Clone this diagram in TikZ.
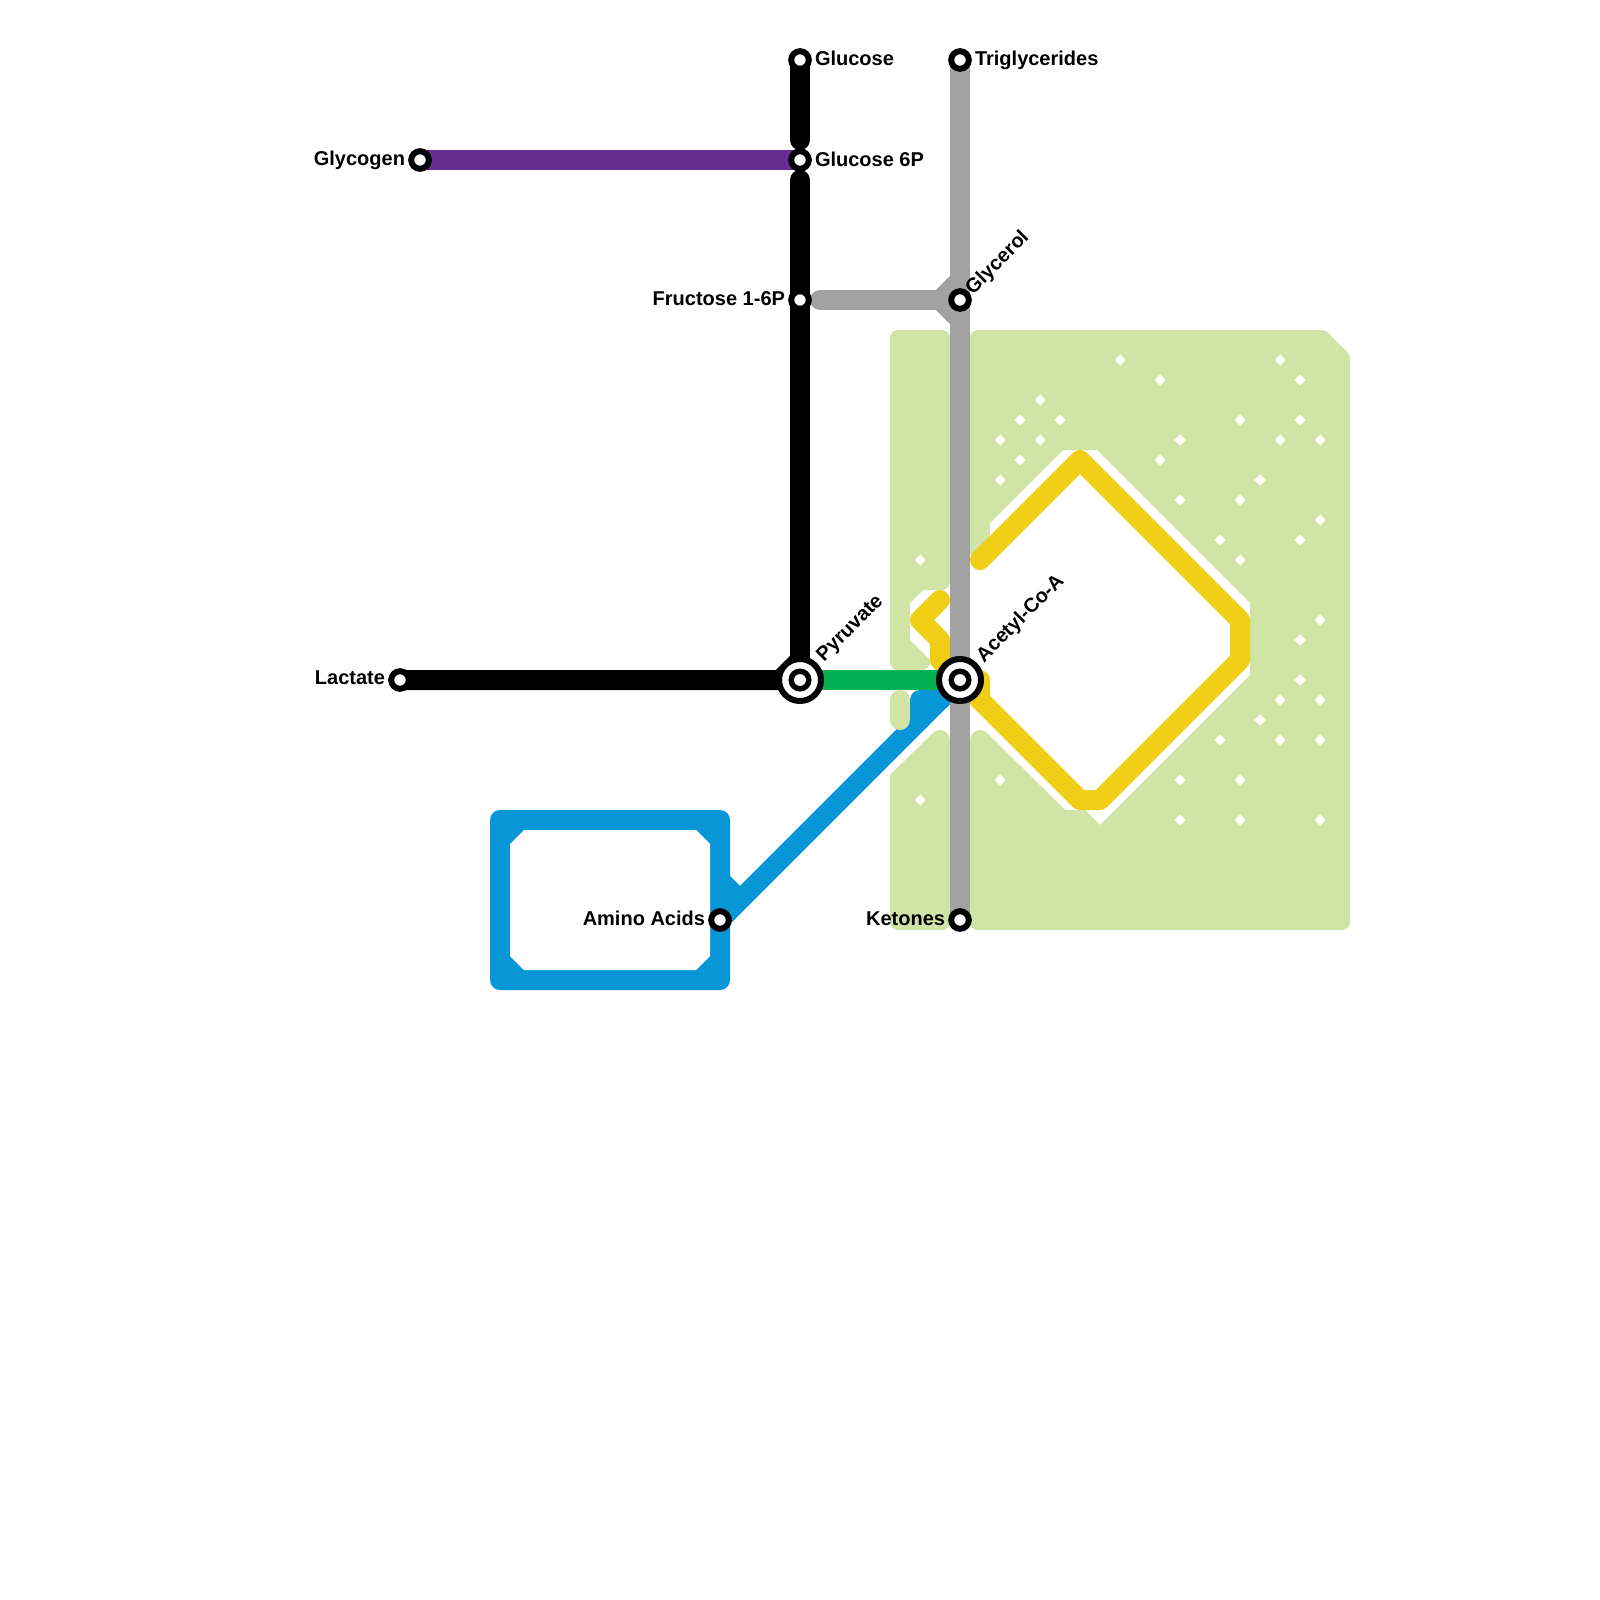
\documentclass[tikz,border=0pt]{standalone}
\usepackage{fontspec}
\setmainfont{Liberation Sans}
\usetikzlibrary{backgrounds}
\definecolor{panelgreen}{HTML}{CFE4A5}
\definecolor{ltblack}{HTML}{000000}
\definecolor{ltpurple}{HTML}{662C90}
\definecolor{ltgreen}{HTML}{00B251}
\definecolor{ltgrey}{HTML}{A2A2A2}
\definecolor{ltblue}{HTML}{0896D7}
\definecolor{ltyellow}{HTML}{F0CE15}
\tikzset{
  station/.style={circle,draw=black,fill=white,line width=3pt,minimum size=8.8pt,inner sep=0pt,outer sep=0pt},
  hub/.style={circle,draw=black,fill=white,line width=3pt,minimum size=21pt,inner sep=0pt,outer sep=0pt},
  hubcore/.style={circle,draw=black,fill=white,line width=2.7pt,minimum size=8.8pt,inner sep=0pt,outer sep=0pt},
  lbl/.style={font=\fontsize{10}{12}\selectfont\bfseries,text=black,inner sep=0pt,outer sep=0pt},
  route/.style={line width=10pt,line join=round,line cap=round},
  routebutt/.style={line width=10pt,line join=round,line cap=butt},
  panel/.style={fill=panelgreen},
  rs/.style={rounded corners=4pt},
  rt/.style={rounded corners=1.5pt}
}
\newcommand{\speckat}[1]{\foreach \p in {#1}{\fill[white] \p ++(-5.5,0) -- ++(5.5,-5.5) -- ++(5.5,5.5) -- ++(-5.5,5.5) -- cycle;}}
\begin{document}
\begin{tikzpicture}[x=0.5pt,y=-0.5pt]
\useasboundingbox (0,0) rectangle (1600,1600);
% stations
\node[station] (glucose) at (800,60) {};
\node[station] (g6p) at (800,160) {};
\node[station] (fructose) at (800,300) {};
\node[station] (glycogen) at (420,160) {};
\node[station] (lactate) at (400,680) {};
\node[hub] (pyruvate) at (800,680) {};
\node[hubcore] (pyruvatecore) at (800,680) {};
\node[hub] (acetyl) at (960,680) {};
\node[hubcore] (acetylcore) at (960,680) {};
\node[station] (trig) at (960,60) {};
\node[station] (glycerol) at (960,300) {};
\node[station] (ketones) at (960,920) {};
\node[station] (amino) at (720,920) {};
% labels
\node[lbl,anchor=base west] (lglucose) at (815,66) {Glucose};
\node[lbl,anchor=base west] (lg6p) at (815,166) {Glucose 6P};
\node[lbl,anchor=base west] (ltrig) at (975,66) {Triglycerides};
\node[lbl,anchor=base east] (lglycogen) at (405,165) {Glycogen};
\node[lbl,anchor=base east] (lfructose) at (785,305) {Fructose 1-6P};
\node[lbl,anchor=base east] (llactate) at (385,684) {Lactate};
\node[lbl,anchor=base east] (lamino) at (705,925) {Amino Acids};
\node[lbl,anchor=base east] (lketones) at (945,925) {Ketones};
\node[lbl,anchor=base west,rotate=45] (lpyruvate) at (824,662) {Pyruvate};
\node[lbl,anchor=base west,rotate=45] (lacetyl) at (984,663) {Acetyl-Co-A};
\node[lbl,anchor=base west,rotate=45] (lglycerol) at (973,295) {Glycerol};
\begin{scope}[on background layer]
\fill[white] (0,0) rectangle (1600,1600);
% green panels
\fill[panel] (920,330) [rs] -- (950,330) -- (950,590) [sharp corners] -- (923,590) -- (910,603) -- (910,640) -- (930,660) [rs] -- (930,670) -- (890,670) -- (890,330) -- cycle;
\fill[panel] (920,930) [rs] -- (890,930) [sharp corners] -- (890,775) -- (932.93,732.93) arc[start angle=225,end angle=360,radius=10] [rs] -- (950,930) -- cycle;
\fill[panel] (1100,330) [rt] -- (1325,330) -- (1350,355) [rs] -- (1350,930) -- (970,930) [sharp corners] -- (970,740) arc[start angle=180,end angle=315,radius=10] -- (1065,810) -- (1085,810) -- (1100,825) -- (1250,675) -- (1250,603) -- (1097,450) -- (1063,450) -- (990,523) -- (990,540) [rs] -- (970,560) -- (970,330) -- cycle;
\speckat{(1120,360),(1160,380),(1280,360),(1300,380),(1040,400),(1020,420),(1060,420),(1240,420),(1300,420),(1000,440),(1040,440),(1180,440),(1280,440),(1320,440),(1020,460),(1160,460),(1000,480),(1260,480),(1180,500),(1240,500),(1320,520),(1220,540),(1300,540),(1240,560),(920,560),(1320,620),(1300,640),(1300,680),(1280,700),(1320,700),(1260,720),(1220,740),(1280,740),(1320,740),(1000,780),(1180,780),(1240,780),(920,800),(1180,820),(1240,820),(1320,820)}
% yellow
\draw[route,ltyellow] (980,560) -- (1080,460) -- (1240,620) -- (1240,660) -- (1100,800) -- (1080,800) -- (980,700) -- (980,680) -- (acetyl.center) -- (980,700);
\draw[route,ltyellow] (940,600) -- (920,620) -- (940,640) -- (940,660) -- (acetyl.center);
% blue
\fill[ltblue,rounded corners=5pt] (490,810) rectangle (730,990);
\fill[white] (524,830) -- (696,830) -- (710,844) -- (710,956) -- (696,970) -- (524,970) -- (510,956) -- (510,844) -- cycle;
\draw[routebutt,ltblue] (amino.center) -- (acetyl.center);
\draw[route,ltblue] (920,720) -- (920,700) -- (940,700) -- (acetyl.center);
\draw[routebutt,ltblue] (720,880) -- (740,900);
% pill
\draw[route,panelgreen] (900,700) -- (900,720);
% black
\draw[route,ltblack] (glucose.center) -- (800,140);
\draw[route,ltblack] (800,180) -- (pyruvate.center);
\draw[routebutt,ltblack] (lactate.center) -- (780,680) -- (800,660);
\draw[routebutt,ltblack] (780,680) -- (pyruvate.center);
% purple
\draw[routebutt,ltpurple] (glycogen.center) -- (g6p.center);
% green line
\draw[routebutt,ltgreen] (pyruvate.center) -- (acetyl.center);
% grey
\draw[routebutt,ltgrey] (trig.center) -- (ketones.center);
\draw[routebutt,ltgrey] (960,280) -- (940,300) -- (960,320);
\draw[route,ltgrey] (820,300) -- (glycerol.center);
\end{scope}
\end{tikzpicture}
\end{document}
